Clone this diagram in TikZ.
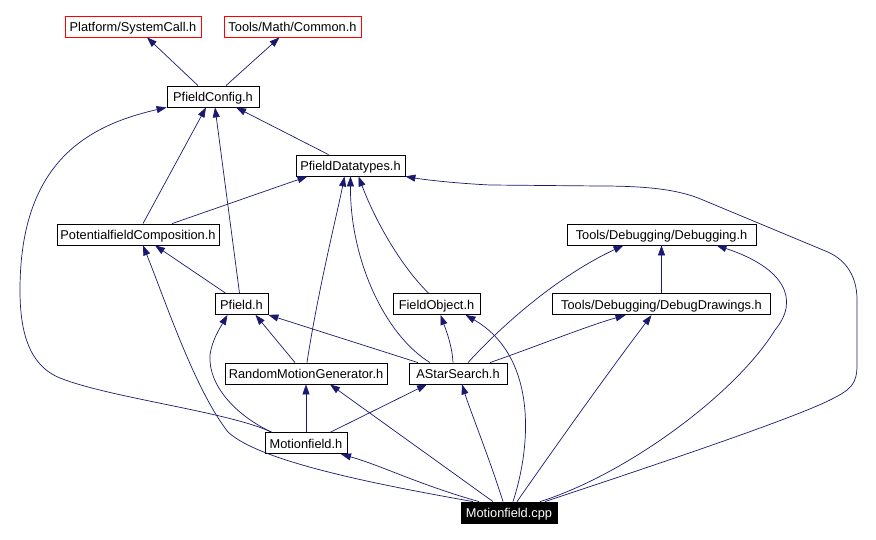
\documentclass[tikz,border=0pt]{standalone}
\usepackage{fontspec}
\setmainfont{Liberation Sans}
\usetikzlibrary{positioning}
\usetikzlibrary{arrows.meta}

\definecolor{edgeblue}{RGB}{25,25,112}
\definecolor{boxred}{RGB}{255,0,0}

\tikzset{
	box/.style={draw=black, line width=0.8pt, minimum height=21pt, inner xsep=0pt, inner ysep=0pt, text height=11pt, text depth=1pt, font=\fontsize{12.8}{14}\selectfont},
	extbox/.style={box, draw=boxred},
	mainbox/.style={box, fill=black, text=white},
	dep/.style={draw=edgeblue, line width=0.7pt, -{Triangle[length=10pt,width=7pt]}},
}

\begin{document}
\begin{tikzpicture}[x=1pt, y=-1pt]
	\useasboundingbox (0,0) rectangle (876,540);

	\node [extbox, minimum width=136pt] (sys) at (133,26.5) {Platform/SystemCall.h};
	\node [extbox, minimum width=137pt] (cmn) at (292.5,26.5) {Tools/Math/Common.h};
	\node [box, minimum width=92pt] (cfg) at (213,96.5) {PfieldConfig.h};
	\node [box, minimum width=109pt] (dtp) at (350.5,165.5) {PfieldDatatypes.h};
	\node [box, minimum width=162pt] (pfc) at (138,234.5) {PotentialfieldComposition.h};
	\node [box, minimum width=189pt] (dbg) at (661.5,234.5) {Tools/Debugging/Debugging.h};
	\node [box, minimum width=53pt] (pfd) at (241.5,304) {Pfield.h};
	\node [box, minimum width=87pt] (fob) at (436.5,304) {FieldObject.h};
	\node [box, minimum width=218pt, below=48pt of dbg] (ddr) {Tools/Debugging/DebugDrawings.h};
	\node [box, minimum width=162pt] (rmg) at (306,373.5) {RandomMotionGenerator.h};
	\node [box, minimum width=98pt] (ass) at (458,373.5) {AStarSearch.h};
	\node [box, minimum width=82pt, below=48pt of rmg] (mfh) {Motionfield.h};
	\node [mainbox, minimum width=96pt] (mcp) at (509,512.5) {Motionfield.cpp};

	% PfieldConfig.h
	\draw[dep] ([xshift=-15pt]cfg.north) -- ([xshift=14pt]sys.south);
	\draw[dep] ([xshift=13pt]cfg.north) -- ([xshift=-13pt]cmn.south);
	\draw[dep] ([xshift=-22pt]dtp.north) -- ([xshift=23pt]cfg.south);
	\draw[dep] ([xshift=5pt]pfc.north) -- ([xshift=-7pt]cfg.south);
	\draw[dep] ([xshift=-2pt]pfd.north) -- ([xshift=2pt]cfg.south);
	\draw[dep] ([xshift=-34pt]mfh.north) .. controls (230,412) and (110,398) .. (60,378)
		.. controls (28,365) and (20,330) .. (20,290)
		.. controls (20,160) and (90,125) .. (cfg.south west);

	% PfieldDatatypes.h
	\draw[dep] ([xshift=34pt]pfc.north) -- ([xshift=-43pt]dtp.south);
	\draw[dep] ([xshift=1pt]rmg.north) .. controls (318,290) and (338,210) .. ([xshift=-6pt]dtp.south);
	\draw[dep] ([xshift=-28pt]ass.north) .. controls (385,335) and (350,260) .. (dtp.south);
	\draw[dep] ([xshift=-8pt]fob.north) .. controls (400,265) and (375,220) .. ([xshift=8pt]dtp.south);
	\draw[dep] ([xshift=36pt]mcp.north) .. controls (640,470) and (790,420) .. (830,400)
		.. controls (850,390) and (857,385) .. (857,365) -- (857,300)
		.. controls (857,275) and (845,258) .. (823,250) -- (703,200)
		.. controls (680,190) and (650,186) .. (600,186) -- (490,185)
		.. controls (450,183) and (420,179) .. (dtp.south east);

	% PotentialfieldComposition.h
	\draw[dep] ([xshift=-16pt]pfd.north) -- ([xshift=17pt]pfc.south);
	\draw[dep] ([xshift=-36pt]mcp.north) .. controls (380,485) and (260,462) .. (228,432)
		.. controls (195,390) and (165,300) .. ([xshift=5pt]pfc.south);

	% Pfield.h
	\draw[dep] ([xshift=-11pt]rmg.north) -- ([xshift=14pt]pfd.south);
	\draw[dep] ([xshift=-40pt]ass.north) -- (pfd.south east);
	\draw[dep] ([xshift=-34pt]mfh.north) .. controls (235,415) and (208,385) .. (210,355)
		.. controls (212,340) and (220,328) .. ([xshift=-14pt]pfd.south);

	% FieldObject.h
	\draw[dep] ([xshift=-5pt]ass.north) .. controls (452,345) and (446,330) .. ([xshift=4pt]fob.south);
	\draw[dep] ([xshift=4pt]mcp.north) .. controls (533,440) and (535,355) .. ([xshift=29pt]fob.south);

	% Tools/Debugging
	\draw[dep] ([xshift=10pt]ass.north) .. controls (505,322) and (560,275) .. ([xshift=-38pt]dbg.south);
	\draw[dep] (ddr.north) -- (dbg.south);
	\draw[dep] ([xshift=31pt]mcp.north) .. controls (625,475) and (735,395) .. (775,330)
		.. controls (800,300) and (785,268) .. ([xshift=55pt]dbg.south);
	\draw[dep] ([xshift=32pt]ass.north) .. controls (540,345) and (590,325) .. ([xshift=-36pt]ddr.south);
	\draw[dep] ([xshift=8pt]mcp.north) .. controls (560,440) and (610,370) .. ([xshift=-10pt]ddr.south);

	% RandomMotionGenerator.h, AStarSearch.h, Motionfield.h
	\draw[dep] (mfh.north) -- (rmg.south);
	\draw[dep] ([xshift=-16pt]mcp.north) -- ([xshift=24pt]rmg.south);
	\draw[dep] ([xshift=24pt]mfh.north) -- ([xshift=-31pt]ass.south);
	\draw[dep] ([xshift=-6pt]mcp.north) .. controls (490,460) and (470,410) .. ([xshift=4pt]ass.south);
	\draw[dep] ([xshift=-30pt]mcp.north) .. controls (420,485) and (380,465) .. ([xshift=35pt]mfh.south);
\end{tikzpicture}
\end{document}
